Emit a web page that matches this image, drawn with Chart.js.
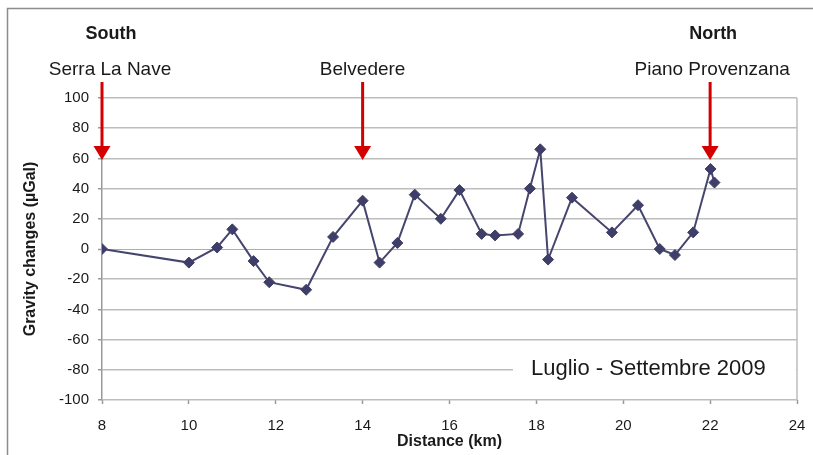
<!DOCTYPE html>
<html>
<head>
<meta charset="utf-8">
<script src="https://cdn.jsdelivr.net/npm/chart.js@4/dist/chart.umd.min.js"></script>
<style>
  html, body { margin: 0; padding: 0; background: #ffffff; }
  #wrap { position: relative; width: 813px; height: 455px; }
</style>
</head>
<body>
<div id="wrap"><canvas id="chart"></canvas></div>
<script>
// Gravity change profile along the Etna south-north transect
const distanceKm = [8, 10.0, 10.65, 11.0, 11.49, 11.85, 12.7, 13.32, 14.0, 14.39, 14.8, 15.2, 15.8, 16.23,
                    16.74, 17.05, 17.58, 17.85, 18.09, 18.27, 18.82, 19.74, 20.34, 20.84, 21.19, 21.61, 22.01, 22.1];
const gravityChange = [0, -9, 1, 13, -8, -22, -27, 8, 32, -9, 4, 36, 20, 39,
                       10, 9, 10, 40, 66, -7, 34, 11, 29, 0, -4, 11, 53, 44];
const seriesLabel = 'Luglio - Settembre 2009';

// Reference sites marked with arrows
const siteNames = ['Serra La Nave', 'Belvedere', 'Piano Provenzana'];
const siteKm = [8, 14, 22];
const endLabels = ['South', 'North'];

const xTicks = [8, 10, 12, 14, 16, 18, 20, 22, 24];
const yTicks = [-100, -80, -60, -40, -20, 0, 20, 40, 60, 80, 100];

const points = distanceKm.map((d, i) => ({ x: d, y: gravityChange[i] }));

const FONT = "'Liberation Sans', Arial, Helvetica, sans-serif";
const TEXT = '#1a1a1a';

const overlay = {
  id: 'overlay',
  afterDraw(chart) {
    const { ctx, chartArea: a, scales: { x } } = chart;
    ctx.save();

    // outer frame (top and left edges)
    ctx.strokeStyle = '#8c8c8c';
    ctx.lineWidth = 1.5;
    ctx.beginPath();
    ctx.moveTo(7.5, 455);
    ctx.lineTo(7.5, 8.5);
    ctx.lineTo(813, 8.5);
    ctx.stroke();

    // right border of the plot area
    ctx.strokeStyle = '#bdbdbd';
    ctx.lineWidth = 1.5;
    ctx.beginPath();
    ctx.moveTo(a.right, a.top);
    ctx.lineTo(a.right, a.bottom);
    ctx.stroke();

    // legend box inside the plot
    const ly = a.top + 270;
    ctx.fillStyle = '#ffffff';
    ctx.fillRect(513, ly - 14, a.right - 514, 28);
    ctx.fillStyle = TEXT;
    ctx.font = '22px ' + FONT;
    ctx.textAlign = 'left';
    ctx.textBaseline = 'middle';
    ctx.fillText(chart.data.datasets[0].label, 531, ly + 1);

    // site arrows and names
    const nameShift = [8, 0, 2];
    siteKm.forEach((km, i) => {
      const px = x.getPixelForValue(km);
      ctx.strokeStyle = '#d40000';
      ctx.fillStyle = '#d40000';
      ctx.lineWidth = 3;
      ctx.beginPath();
      ctx.moveTo(px, a.top - 16);
      ctx.lineTo(px, a.top + 50);
      ctx.stroke();
      ctx.beginPath();
      ctx.moveTo(px - 8.5, a.top + 48);
      ctx.lineTo(px + 8.5, a.top + 48);
      ctx.lineTo(px, a.top + 62);
      ctx.closePath();
      ctx.fill();

      ctx.fillStyle = TEXT;
      ctx.font = '19px ' + FONT;
      ctx.textAlign = 'center';
      ctx.textBaseline = 'middle';
      ctx.fillText(siteNames[i], px + nameShift[i], 70);
    });

    // South / North headers above the end sites
    ctx.font = 'bold 18px ' + FONT;
    ctx.fillStyle = TEXT;
    ctx.textAlign = 'center';
    ctx.fillText(endLabels[0], x.getPixelForValue(siteKm[0]) + 9, 34);
    ctx.fillText(endLabels[1], x.getPixelForValue(siteKm[siteKm.length - 1]) + 3, 34);

    ctx.restore();
  }
};

new Chart(document.getElementById('chart'), {
  type: 'line',
  data: {
    datasets: [{
      label: seriesLabel,
      data: points,
      borderColor: '#45456e',
      borderWidth: 2,
      backgroundColor: '#3e3e68',
      pointStyle: 'rectRot',
      pointRadius: 5.5,
      pointBorderWidth: 1,
      pointBorderColor: '#3e3e68',
      pointBackgroundColor: '#3e3e68',
      tension: 0,
      fill: false
    }]
  },
  options: {
    responsive: true,
    maintainAspectRatio: false,
    animation: false,
    devicePixelRatio: 1,
    layout: { padding: { left: 0, top: 98, right: 16, bottom: 0 } },
    plugins: {
      legend: { display: false },
      tooltip: { enabled: false }
    },
    scales: {
      x: {
        type: 'linear',
        min: xTicks[0],
        max: xTicks[xTicks.length - 1],
        afterBuildTicks: s => { s.ticks = xTicks.map(v => ({ value: v })); },
        afterFit: s => { s.height = 55; s.paddingLeft = 0; s.paddingRight = 0; },
        ticks: { font: { size: 15, family: FONT }, color: TEXT, padding: 13, maxRotation: 0 },
        grid: { drawOnChartArea: false, drawTicks: true, tickLength: 4, tickColor: '#999999', tickWidth: 1.5 },
        border: { display: false },
        title: {
          display: true,
          text: 'Distance (km)',
          font: { size: 16, weight: 'bold', family: FONT },
          color: TEXT,
          padding: { top: 0, bottom: 4 }
        }
      },
      y: {
        min: yTicks[0],
        max: yTicks[yTicks.length - 1],
        afterBuildTicks: s => { s.ticks = yTicks.map(v => ({ value: v })); },
        afterFit: s => { s.width = 102; s.paddingTop = 0; s.paddingBottom = 0; },
        ticks: { font: { size: 15, family: FONT }, color: TEXT, padding: 9 },
        grid: {
          color: c => (c.tick && c.tick.value === 0) ? '#e89494' : '#bdbdbd',
          lineWidth: c => (c.tick && c.tick.value === 0) ? 1 : 1.5,
          tickColor: '#999999',
          tickLength: 4,
          tickWidth: 1.5
        },
        border: { display: true, color: '#999999', width: 1.5 },
        title: {
          display: true,
          text: 'Gravity changes (µGal)',
          font: { size: 16, weight: 'bold', family: FONT },
          color: TEXT,
          padding: { top: 21, bottom: 0 }
        }
      }
    }
  },
  plugins: [overlay]
});
</script>
</body>
</html>
